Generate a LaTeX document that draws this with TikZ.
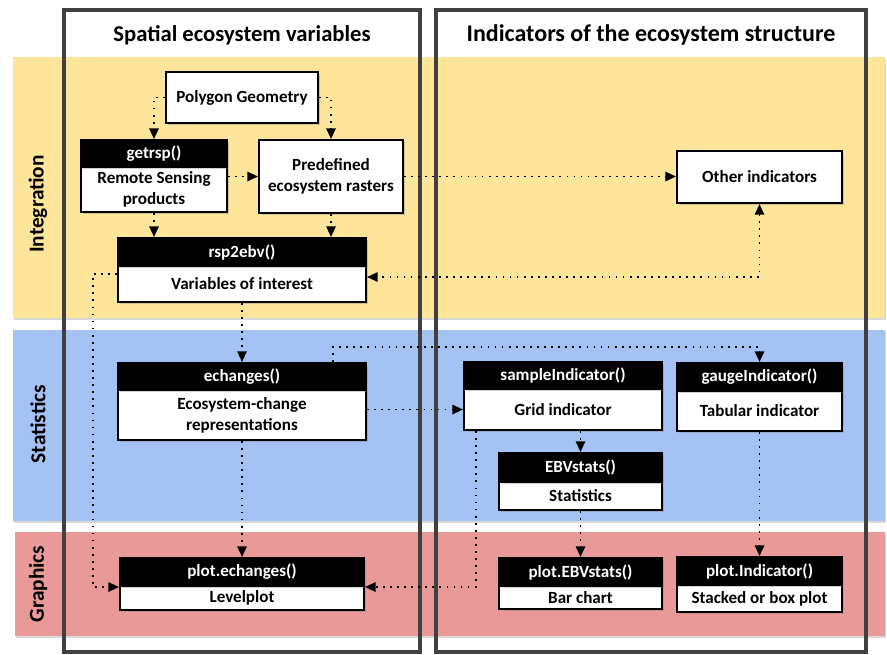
\documentclass[tikz,border=0pt]{standalone}
\usepackage{fontspec}
\setmainfont{Carlito}
\usetikzlibrary{arrows.meta,shadows,calc}
\definecolor{bandY}{HTML}{FFE599}
\definecolor{bandB}{HTML}{A4C2F4}
\definecolor{bandR}{HTML}{EA9999}
\definecolor{frameC}{HTML}{404040}
\begin{document}
\begin{tikzpicture}[x=0.75pt,y=-0.75pt,
  bandshadow/.style={drop shadow={shadow xshift=0.6pt,shadow yshift=-1.2pt,opacity=0.3}},
  frame/.style={draw=frameC,line width=2.3pt},
  title/.style={font=\fontsize{17}{20}\selectfont\bfseries},
  bandlabel/.style={rotate=90,font=\fontsize{16}{19}\selectfont\bfseries},
  wh/.style 2 args={minimum width=#1*0.75pt,minimum height=#2*0.75pt},
  box/.style={draw=black,line width=1.5pt,fill=white,inner sep=0pt,align=center,
    font=\fontsize{12.8}{15.6}\selectfont\bfseries,
    drop shadow={shadow xshift=1.2pt,shadow yshift=-1.2pt,opacity=0.35}},
  hdr/.style={box,fill=black,text=white},
  conn/.style={line width=1.4pt,dash pattern=on 1.3pt off 4pt,
    -{Triangle[length=8pt,width=7pt]}},
  conn2/.style={conn,{Triangle[length=8pt,width=7pt]}-{Triangle[length=8pt,width=7pt]}}
]
\useasboundingbox (0,0) rectangle (887,654);
% bands
\path[fill=bandY,bandshadow] (13,57) rectangle (885,318);
\path[fill=bandB,bandshadow] (13,330) rectangle (885,521);
\path[fill=bandR,bandshadow] (15,532) rectangle (885,636);
% frames
\draw[frame] (64,10) rectangle (420,652);
\draw[frame] (436,10) rectangle (866,652);
% titles
\node[title] (t1) at (242,35) {Spatial ecosystem variables};
\node[title,font=\fontsize{18}{21}\selectfont\bfseries] (t2) at (651,35) {Indicators of the ecosystem structure};
\node[bandlabel] (l1) at (38,204) {Integration};
\node[bandlabel] (l2) at (38,424) {Statistics};
\node[bandlabel] (l3) at (38,584) {Graphics};
% helper coordinates
\coordinate (c93) at (93,0);
\coordinate (c333) at (333,0);
\coordinate (c476) at (476,0);
\coordinate (c274) at (0,274);
\coordinate (c277) at (0,277);
\coordinate (c347) at (0,347);
\coordinate (c587) at (0,587);
% nodes
\node[box,wh={152}{51}] (poly) at (242,97.5) {Polygon Geometry};
\node[box,wh={144}{73}] (pred) at (331,176.5) {Predefined\\ecosystem rasters};
\node[box,wh={165}{52}] (other) at (759.5,177) {Other indicators};
\node[box,wh={146}{45}] (getrspB) at (154,189.5) {Remote Sensing\\products};
\node[hdr,wh={146}{27}] (getrspH) at (154,153.5) {getrsp()};
\node[box,wh={248}{36}] (rspB) at (242,284) {Variables of interest};
\node[hdr,wh={248}{28}] (rspH) at (242,252) {rsp2ebv()};
\node[box,wh={248}{50}] (echB) at (242,415) {Ecosystem-change\\representations};
\node[hdr,wh={248}{27}] (echH) at (242,376.5) {echanges()};
\node[box,wh={198}{41}] (sampB) at (563,409.5) {Grid indicator};
\node[hdr,wh={198}{27}] (sampH) at (563,375.5) {sampleIndicator()};
\node[box,wh={165}{40}] (gaugeB) at (759.5,411) {Tabular indicator};
\node[hdr,wh={165}{28}] (gaugeH) at (759.5,377) {gaugeIndicator()};
\node[box,wh={163}{28}] (ebvB) at (580.5,496) {Statistics};
\node[hdr,wh={163}{29}] (ebvH) at (580.5,467.5) {EBVstats()};
\node[box,wh={244}{24}] (peB) at (242,598) {Levelplot};
\node[hdr,wh={244}{28}] (peH) at (242,572) {plot.echanges()};
\node[box,wh={163}{23}] (pebvB) at (580.5,597.5) {Bar chart};
\node[hdr,wh={163}{28}] (pebvH) at (580.5,572) {plot.EBVstats()};
\node[box,wh={165}{27}] (pindB) at (759.5,598.5) {Stacked or box plot};
\node[hdr,wh={165}{28}] (pindH) at (759.5,571) {plot.Indicator()};
% connectors
\draw[conn] (poly.west) -| (getrspH.north);
\draw[conn] (poly.east) -| (pred.north);
\draw[conn] (getrspB.east |- pred.west) -- (pred.west);
\draw[conn] (pred.east) -- (other.west |- pred.east);
\draw[conn] (getrspB.south) -- (getrspB.south |- rspH.north);
\draw[conn] (pred.south) -- (pred.south |- rspH.north);
\draw[conn2] (other.south) |- (rspB.east |- c277);
\draw[conn] (rspB.west |- c274) -- (c93 |- c274) -- (c93 |- c587) -- (peB.west |- c587);
\draw[conn] (rspB.south) -- (echH.north);
\draw[conn] (c333 |- echH.north) -- (c333 |- c347) -| (gaugeH.north);
\draw[conn] (echB.east |- sampB.west) -- (sampB.west);
\draw[conn] (echB.south) -- (peH.north);
\draw[conn] (c476 |- sampB.south) -- (c476 |- c587) -- (peB.east |- c587);
\draw[conn] (ebvH.north |- sampB.south) -- (ebvH.north);
\draw[conn] (ebvB.south) -- (pebvH.north);
\draw[conn] (gaugeB.south) -- (pindH.north);
\end{tikzpicture}
\end{document}
